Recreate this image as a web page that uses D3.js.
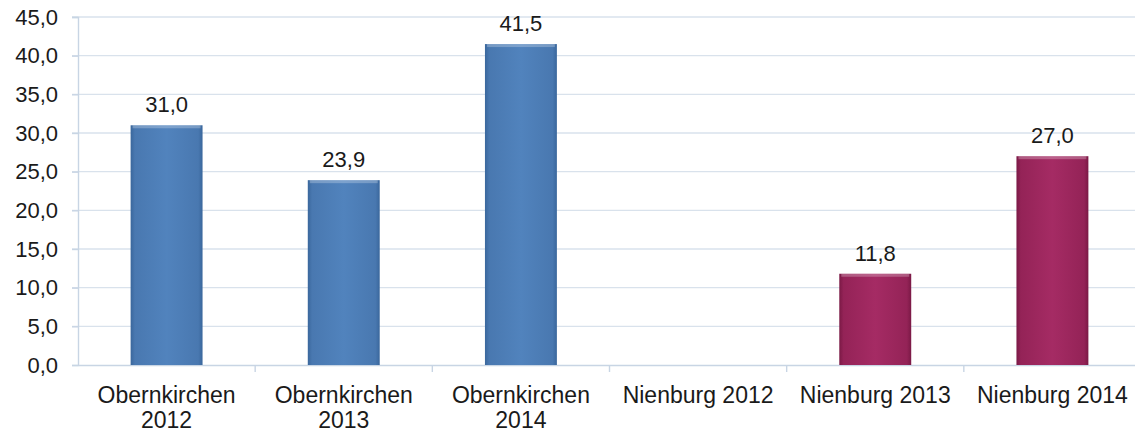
<!DOCTYPE html>
<html>
<head>
<meta charset="utf-8">
<script src="https://cdn.jsdelivr.net/npm/d3@7"></script>
<style>
  body { margin: 0; background: #fff; overflow: hidden; }
  text { font-family: "Liberation Sans", Arial, sans-serif; fill: #1a1a1a; }
</style>
</head>
<body>
<svg id="chart"></svg>
<script>
// datos
const categorias = ["Obernkirchen 2012", "Obernkirchen 2013", "Obernkirchen 2014",
  "Nienburg 2012", "Nienburg 2013", "Nienburg 2014"];
const etiquetas = [["Obernkirchen", "2012"], ["Obernkirchen", "2013"], ["Obernkirchen", "2014"],
  ["Nienburg 2012"], ["Nienburg 2013"], ["Nienburg 2014"]];
const valores = [31.0, 23.9, 41.5, null, 11.8, 27.0];
const grupos = ["o", "o", "o", "n", "n", "n"];
const ticksY = [0, 5, 10, 15, 20, 25, 30, 35, 40, 45];

const WIDTH = 1135, HEIGHT = 432;
// el area del grafico sigue un poco mas alla del borde derecho
const margins = { top: 17, bottom: 67, left: 78, right: -6 };
const PAD = 0.594;

const svg = d3.select("#chart").attr("width", WIDTH).attr("height", HEIGHT);

const defs = svg.append("defs");
const colores = { o: ["#3a679c", "#5183bd", "#4978b0"], n: ["#7a1945", "#a52b64", "#942357"] };
Object.entries(colores).forEach(([k, c]) => {
  const g = defs.append("linearGradient").attr("id", "grad-" + k)
    .attr("x1", 0).attr("x2", 1).attr("y1", 0).attr("y2", 0);
  g.append("stop").attr("offset", "0%").attr("stop-color", c[0]);
  g.append("stop").attr("offset", "6%").attr("stop-color", c[2]);
  g.append("stop").attr("offset", "50%").attr("stop-color", c[1]);
  g.append("stop").attr("offset", "94%").attr("stop-color", c[2]);
  g.append("stop").attr("offset", "100%").attr("stop-color", c[0]);
});

const escalaX = d3.scaleBand()
  .domain(categorias)
  .range([margins.left, WIDTH - margins.right])
  .paddingInner(PAD)
  .paddingOuter(PAD / 2);

const escalaY = d3.scaleLinear()
  .domain([0, 45])
  .range([HEIGHT - margins.bottom, margins.top]);

// lineas de grilla
svg.append("g")
  .selectAll("line")
  .data(ticksY.filter(d => d > 0))
  .join("line")
  .attr("x1", margins.left - 6)
  .attr("x2", WIDTH - margins.right)
  .attr("y1", d => escalaY(d))
  .attr("y2", d => escalaY(d))
  .attr("stroke", "#d9e2ec")
  .attr("stroke-width", 1.4);

// eje y
const ejeY = d3.axisLeft(escalaY)
  .tickValues(ticksY)
  .tickSize(6)
  .tickPadding(14)
  .tickFormat(d => d3.format(".1f")(d).replace(".", ","));

const gEjeY = svg.append("g")
  .attr("transform", `translate(${margins.left} 0)`)
  .call(ejeY);
gEjeY.select(".domain").attr("stroke", "#c8d5e4").attr("stroke-width", 1.4);
gEjeY.selectAll(".tick line").attr("stroke", "#c8d5e4").attr("stroke-width", 1.4);
gEjeY.selectAll(".tick text").attr("font-size", 22).attr("fill", "#1a1a1a")
  .attr("font-family", "Liberation Sans, Arial, sans-serif");

// eje x
const ejeX = d3.axisBottom(escalaX).tickSize(0).tickFormat("");
const gEjeX = svg.append("g")
  .attr("transform", `translate(0 ${escalaY(0)})`)
  .call(ejeX);
gEjeX.select(".domain").attr("stroke", "#c8d5e4").attr("stroke-width", 1.4);

// separadores de categoria
const paso = escalaX.step();
gEjeX.selectAll(".sep")
  .data(categorias.slice(1))
  .join("line")
  .attr("class", "sep")
  .attr("x1", d => escalaX(d) - paso * PAD / 2)
  .attr("x2", d => escalaX(d) - paso * PAD / 2)
  .attr("y1", 0)
  .attr("y2", 7)
  .attr("stroke", "#c8d5e4")
  .attr("stroke-width", 1.4);

// etiquetas de categoria
svg.append("g")
  .selectAll("text")
  .data(categorias)
  .join("text")
  .attr("x", d => escalaX(d) + escalaX.bandwidth() / 2)
  .attr("y", escalaY(0) + 38)
  .attr("text-anchor", "middle")
  .attr("font-size", 23)
  .each(function (d, i) {
    d3.select(this).selectAll("tspan")
      .data(etiquetas[i])
      .join("tspan")
      .attr("x", escalaX(d) + escalaX.bandwidth() / 2)
      .attr("dy", (_, j) => j === 0 ? 0 : 25)
      .text(t => t);
  });

// barras
const datos = categorias.map((c, i) => ({ cat: c, val: valores[i], grupo: grupos[i] }))
  .filter(d => d.val !== null);

const barras = svg.append("g");
barras.selectAll("rect.bar")
  .data(datos)
  .join("rect")
  .attr("class", "bar")
  .attr("x", d => escalaX(d.cat))
  .attr("y", d => escalaY(d.val))
  .attr("width", escalaX.bandwidth())
  .attr("height", d => escalaY(0) - escalaY(d.val))
  .attr("fill", d => `url(#grad-${d.grupo})`);

// brillo superior
barras.selectAll("rect.brillo")
  .data(datos)
  .join("rect")
  .attr("class", "brillo")
  .attr("x", d => escalaX(d.cat) + 2)
  .attr("y", d => escalaY(d.val))
  .attr("width", escalaX.bandwidth() - 4)
  .attr("height", 3)
  .attr("fill", "#ffffff")
  .attr("opacity", 0.25);

// valores
svg.append("g")
  .selectAll("text")
  .data(datos)
  .join("text")
  .attr("x", d => escalaX(d.cat) + escalaX.bandwidth() / 2)
  .attr("y", d => escalaY(d.val) - 13)
  .attr("text-anchor", "middle")
  .attr("font-size", 22)
  .text(d => d3.format(".1f")(d.val).replace(".", ","));
</script>
</body>
</html>
